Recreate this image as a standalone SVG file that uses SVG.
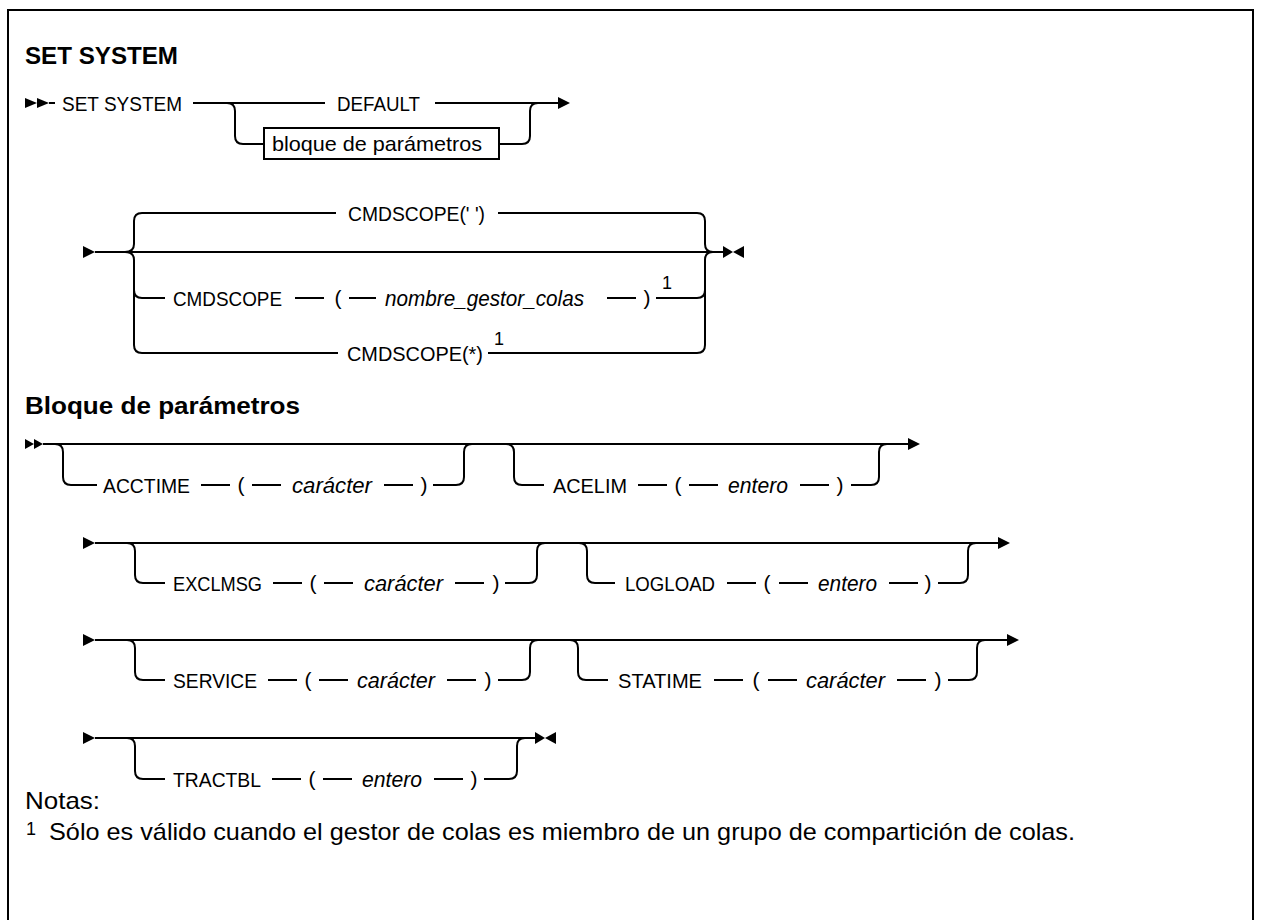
<svg xmlns="http://www.w3.org/2000/svg" width="1261" height="920" viewBox="0 0 1261 920">
<style>
.ln{stroke:#000;stroke-width:2;fill:none}
.ar{fill:#000;stroke:none}
.t{font-family:"Liberation Sans",Arial,sans-serif;font-size:21px;fill:#000}
.v{font-family:"Liberation Sans",Arial,sans-serif;font-size:22px;font-style:italic;fill:#000}
.p{font-family:"Liberation Sans",Arial,sans-serif;font-size:21px;fill:#000;text-anchor:middle}
.h{font-family:"Liberation Sans",Arial,sans-serif;font-size:23px;font-weight:bold;fill:#000}
.n{font-family:"Liberation Sans",Arial,sans-serif;font-size:24px;fill:#000}
.s{font-family:"Liberation Sans",Arial,sans-serif;font-size:18px;fill:#000}
</style>
<rect width="1261" height="920" fill="#fff"/>
<path class="ln" d="M8,921 V10 H1253 V921"/>

<g id="titles">
<text class="h" x="25" y="64" textLength="153" lengthAdjust="spacingAndGlyphs">SET SYSTEM</text>
<text class="h" x="25" y="414" textLength="275" lengthAdjust="spacingAndGlyphs">Bloque de parámetros</text>
</g>

<g id="connectors">
<!-- section 1 -->
<polygon class="ar" points="25,98 37,103 25,108"/>
<polygon class="ar" points="37,98 49,103 37,108"/>
<path class="ln" d="M49,103 H55"/>
<path class="ln" d="M193,103 H325 M435,103 H558"/>
<polygon class="ar" points="558,97 570,103 558,109"/>
<path class="ln" d="M227,103 Q235,103 235,111 V136 Q235,144 243,144 H264"/>
<path class="ln" d="M499,144 H522 Q530,144 530,136 V111 Q530,103 538,103"/>
<!-- section 2 -->
<polygon class="ar" points="83,246 95,252 83,258"/>
<path class="ln" d="M95,252 H723"/>
<path class="ln" d="M125,252 Q134,252 134,244 V221 Q134,213 142,213 H336"/>
<path class="ln" d="M125,252 Q134,252 134,260 V345 Q134,353 142,353 H338"/>
<path class="ln" d="M134,290 Q134,298 142,298 H165"/>
<path class="ln" d="M498,213 H697 Q705,213 705,221 V244 Q705,252 713,252"/>
<path class="ln" d="M488,353 H697 Q705,353 705,345 V260 Q705,252 713,252"/>
<path class="ln" d="M656,298 H697 Q705,298 705,290"/>
<path class="ln" d="M295,298 H324 M349,298 H376 M607,298 H636"/>
<polygon class="ar" points="723,246 733,252 723,258"/>
<polygon class="ar" points="744,246 733,252 744,258"/>
<!-- row 1 -->
<polygon class="ar" points="25,439 34,444 25,449"/>
<polygon class="ar" points="34,439 43,444 34,449"/>
<path class="ln" d="M43,444 H908"/>
<polygon class="ar" points="908,438 920,444 908,450"/>
<path class="ln" d="M55,444 Q63,444 63,452 V477 Q63,485 71,485 H97"/>
<path class="ln" d="M201,485 H230 M252,485 H281 M384,485 H413"/>
<path class="ln" d="M433,485 H456 Q464,485 464,477 V452 Q464,444 472,444"/>
<path class="ln" d="M506,444 Q514,444 514,452 V477 Q514,485 522,485 H544"/>
<path class="ln" d="M638,485 H667 M689,485 H718 M800,485 H829"/>
<path class="ln" d="M851,485 H871 Q879,485 879,477 V452 Q879,444 887,444"/>
<!-- row 2 -->
<polygon class="ar" points="83,537 95,543 83,549"/>
<path class="ln" d="M95,543 H998"/>
<polygon class="ar" points="998,537 1010,543 998,549"/>
<path class="ln" d="M127,543 Q135,543 135,551 V575 Q135,583 143,583 H165"/>
<path class="ln" d="M273,583 H302 M324,583 H353 M455,583 H484"/>
<path class="ln" d="M505,583 H529 Q537,583 537,575 V551 Q537,543 545,543"/>
<path class="ln" d="M579,543 Q587,543 587,551 V575 Q587,583 595,583 H615"/>
<path class="ln" d="M727,583 H756 M779,583 H808 M889,583 H918"/>
<path class="ln" d="M938,583 H960 Q968,583 968,575 V551 Q968,543 976,543"/>
<!-- row 3 -->
<polygon class="ar" points="83,634 95,640 83,646"/>
<path class="ln" d="M95,640 H1007"/>
<polygon class="ar" points="1007,634 1019,640 1007,646"/>
<path class="ln" d="M127,640 Q135,640 135,648 V672 Q135,680 143,680 H165"/>
<path class="ln" d="M268,680 H297 M319,680 H348 M447,680 H476"/>
<path class="ln" d="M498,680 H522 Q530,680 530,672 V648 Q530,640 538,640"/>
<path class="ln" d="M570,640 Q578,640 578,648 V672 Q578,680 586,680 H608"/>
<path class="ln" d="M714,680 H743 M768,680 H797 M897,680 H926"/>
<path class="ln" d="M948,680 H969 Q977,680 977,672 V648 Q977,640 985,640"/>
<!-- row 4 -->
<polygon class="ar" points="83,732 95,738 83,744"/>
<path class="ln" d="M95,738 H535"/>
<polygon class="ar" points="535,732 545,738 535,744"/>
<polygon class="ar" points="556,732 545,738 556,744"/>
<path class="ln" d="M127,738 Q135,738 135,746 V771 Q135,779 143,779 H165"/>
<path class="ln" d="M272,779 H301 M323,779 H352 M434,779 H463"/>
<path class="ln" d="M484,779 H509 Q517,779 517,771 V746 Q517,738 525,738"/>
</g>

<g id="n-set-system"><text class="t" x="62" y="110.5" textLength="120" lengthAdjust="spacingAndGlyphs">SET SYSTEM</text></g>
<g id="n-default"><text class="t" x="337" y="110.5" textLength="83" lengthAdjust="spacingAndGlyphs">DEFAULT</text></g>
<g id="n-bloque">
<rect class="ln" x="264" y="128" width="235" height="31"/>
<text class="t" x="272" y="151" textLength="210" lengthAdjust="spacingAndGlyphs">bloque de parámetros</text>
</g>

<g id="n-cmdscope-blank"><text class="t" x="348" y="220.5" textLength="137" lengthAdjust="spacingAndGlyphs">CMDSCOPE(' ')</text></g>
<g id="n-cmdscope-qmgr">
<text class="t" x="173" y="305.5" textLength="109" lengthAdjust="spacingAndGlyphs">CMDSCOPE</text>
<text class="p" x="338" y="305">(</text>
<text class="v" x="385" y="305.5" textLength="199" lengthAdjust="spacingAndGlyphs">nombre_gestor_colas</text>
<text class="p" x="647" y="305">)</text>
<text class="s" x="662" y="289">1</text>
</g>
<g id="n-cmdscope-star">
<text class="t" x="347" y="360.5" textLength="136" lengthAdjust="spacingAndGlyphs">CMDSCOPE(*)</text>
<text class="s" x="494" y="345">1</text>
</g>

<g id="n-acctime">
<text class="t" x="103" y="492.5" textLength="87" lengthAdjust="spacingAndGlyphs">ACCTIME</text>
<text class="p" x="241" y="492">(</text>
<text class="v" x="292" y="492.5" textLength="80" lengthAdjust="spacingAndGlyphs">carácter</text>
<text class="p" x="424" y="492">)</text>
</g>
<g id="n-acelim">
<text class="t" x="553" y="492.5" textLength="74" lengthAdjust="spacingAndGlyphs">ACELIM</text>
<text class="p" x="678" y="492">(</text>
<text class="v" x="728" y="492.5" textLength="60" lengthAdjust="spacingAndGlyphs">entero</text>
<text class="p" x="840" y="492">)</text>
</g>
<g id="n-exclmsg">
<text class="t" x="173" y="590.5" textLength="89" lengthAdjust="spacingAndGlyphs">EXCLMSG</text>
<text class="p" x="313" y="590">(</text>
<text class="v" x="364" y="590.5" textLength="79" lengthAdjust="spacingAndGlyphs">carácter</text>
<text class="p" x="496" y="590">)</text>
</g>
<g id="n-logload">
<text class="t" x="625" y="590.5" textLength="90" lengthAdjust="spacingAndGlyphs">LOGLOAD</text>
<text class="p" x="767" y="590">(</text>
<text class="v" x="818" y="590.5" textLength="59" lengthAdjust="spacingAndGlyphs">entero</text>
<text class="p" x="928" y="590">)</text>
</g>
<g id="n-service">
<text class="t" x="173" y="687.5" textLength="84" lengthAdjust="spacingAndGlyphs">SERVICE</text>
<text class="p" x="308" y="687">(</text>
<text class="v" x="357" y="687.5" textLength="78" lengthAdjust="spacingAndGlyphs">carácter</text>
<text class="p" x="488" y="687">)</text>
</g>
<g id="n-statime">
<text class="t" x="618" y="687.5" textLength="84" lengthAdjust="spacingAndGlyphs">STATIME</text>
<text class="p" x="756" y="687">(</text>
<text class="v" x="806" y="687.5" textLength="79" lengthAdjust="spacingAndGlyphs">carácter</text>
<text class="p" x="938" y="687">)</text>
</g>
<g id="n-tractbl">
<text class="t" x="173" y="786.5" textLength="88" lengthAdjust="spacingAndGlyphs">TRACTBL</text>
<text class="p" x="312" y="786">(</text>
<text class="v" x="362" y="786.5" textLength="60" lengthAdjust="spacingAndGlyphs">entero</text>
<text class="p" x="474" y="786">)</text>
</g>

<g id="notes">
<text class="n" x="25" y="809" textLength="75" lengthAdjust="spacingAndGlyphs">Notas:</text>
<text class="s" x="26" y="835">1</text>
<text class="n" x="49" y="840" textLength="1026" lengthAdjust="spacingAndGlyphs">Sólo es válido cuando el gestor de colas es miembro de un grupo de compartición de colas.</text>
</g>
</svg>
